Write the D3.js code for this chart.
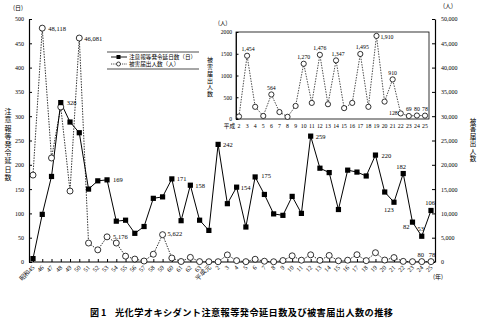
<!DOCTYPE html>
<html><head><meta charset="utf-8">
<script src="https://cdn.jsdelivr.net/npm/d3@7/dist/d3.min.js"></script>
<style>body{margin:0;background:#fff}svg{display:block}</style>
</head><body><svg id="c" width="480" height="327"></svg>
<script>
// ---- data ----
const years = [1970,1971,1972,1973,1974,1975,1976,1977,1978,1979,1980,1981,1982,1983,1984,1985,1986,1987,1988,1989,
  1990,1991,1992,1993,1994,1995,1996,1997,1998,1999,2000,2001,2002,2003,2004,2005,2006,2007,2008,2009,2010,2011,2012,2013];
const yearLabels = ["昭和45","46","47","48","49","50","51","52","53","54","55","56","57","58","59","60","61","62","63","平成元",
  "2","3","4","5","6","7","8","9","10","11","12","13","14","15","16","17","18","19","20","21","22","23","24","25"];
const days = [7,98,176,328,288,266,150,167,169,84,86,59,73,131,134,171,85,158,86,65,
  242,120,154,72,175,139,99,96,135,100,259,193,184,108,189,185,177,220,144,123,182,82,53,106];
const people = [17887,48118,21400,31900,14600,46081,3900,2500,5176,3900,1200,600,200,1600,5622,820,100,950,80,60,
  58,1454,280,70,564,160,50,300,1270,370,1476,340,1347,250,370,1495,280,1910,400,910,128,69,80,78];
const insetYears = years.filter(y => y >= 1990);
const insetLabels = ["2","3","4","5","6","7","8","9","10","11","12","13","14","15","16","17","18","19","20","21","22","23","24","25"];
const leftTicks = [0,50,100,150,200,250,300,350,400,450,500];
const rightTicks = [0,5000,10000,15000,20000,25000,30000,35000,40000,45000,50000];
const insetTicks = [0,500,1000,1500,2000];
const dayLabelYears = [1973,1978,1985,1987,1990,1992,1994,2000,2007,2009,2010,2011,2012,2013];
const peopleLabelYears = [1971,1975,1978,1984,2012,2013];
const insetLabelYears = [1991,1994,1998,2000,2002,2005,2007,2009,2010,2011,2012,2013];
const titleText = "光化学オキシダント注意報等発令延日数及び被害届出人数の推移";

// ---- drawing ----
const svg = d3.select("#c");
const SERIF = "'Liberation Serif','Times New Roman',serif";
const JP = "'Noto Sans CJK JP',sans-serif";
const fmt = d3.format(",");
const val = (arr, yr) => arr[years.indexOf(yr)];

const x = d3.scalePoint().domain(years).range([33, 431]);
const yL = d3.scaleLinear().domain([0, 500]).range([262, 19]);
const yR = d3.scaleLinear().domain([0, 50000]).range([262, 19]);

// axes
const gL = svg.append("g").attr("transform","translate(29,0)")
  .call(d3.axisLeft(yL).tickValues(leftTicks).tickSize(-3).tickSizeOuter(0).tickPadding(5).tickFormat(d3.format("d")));
const gR = svg.append("g").attr("transform","translate(435,0)")
  .call(d3.axisRight(yR).tickValues(rightTicks).tickSize(-3).tickSizeOuter(0).tickPadding(6).tickFormat(fmt));
const gB = svg.append("g").attr("transform","translate(0,262)")
  .call(d3.axisBottom(x).tickSize(-3).tickSizeOuter(0).tickFormat(""));
gB.select(".domain").remove();
svg.append("line").attr("x1",29).attr("x2",435).attr("y1",262).attr("y2",262).attr("stroke","#000").attr("stroke-width",1.2);
[gL,gR].forEach(g=>{
  g.select(".domain").attr("stroke-width",1.2);
  g.selectAll("text").attr("font-family",SERIF).attr("font-size",6).attr("fill","#000");
});
// rotated x labels
svg.append("g").selectAll("text").data(years).join("text")
  .attr("transform", d => `translate(${x(d)+2},${268}) rotate(-45)`)
  .attr("text-anchor","end").attr("font-family",SERIF).attr("font-size",6.3)
  .text((d,i)=>yearLabels[i]);
svg.append("text").attr("x",433).attr("y",279).attr("font-family",JP).attr("font-size",6).text("(年)");

// unit labels
svg.append("text").attr("x",13).attr("y",10).attr("font-family",JP).attr("font-size",6).text("(日)");
svg.append("text").attr("x",443).attr("y",8).attr("font-family",JP).attr("font-size",6).text("(人)");
function vtext(str, cx, y0, size, spacing){
  svg.append("text").attr("x",cx).attr("y",y0)
    .style("writing-mode","vertical-rl").style("text-orientation","upright")
    .attr("letter-spacing",spacing).attr("font-family",JP).attr("font-size",size).text(str);
}
vtext("注意報等発令延日数", 8, 108, 7, 1.2);
vtext("被害届出人数", 473, 118, 6.5, 1);

// people series
svg.append("path").datum(years).attr("fill","none").attr("stroke","#000").attr("stroke-width",0.8)
  .attr("stroke-dasharray","1.5,1.2")
  .attr("d", d3.line().x(d=>x(d)).y(d=>yR(val(people,d))));
// days series
svg.append("path").datum(years).attr("fill","none").attr("stroke","#000").attr("stroke-width",1)
  .attr("d", d3.line().x(d=>x(d)).y(d=>yL(val(days,d))));
svg.append("g").selectAll("circle").data(years).join("circle")
  .attr("cx",d=>x(d)).attr("cy",d=>yR(val(people,d))).attr("r",3)
  .attr("fill","#fff").attr("stroke","#000").attr("stroke-width",0.8);
svg.append("g").selectAll("rect").data(years).join("rect")
  .attr("x",d=>x(d)-2.6).attr("y",d=>yL(val(days,d))-2.6).attr("width",5.2).attr("height",5.2).attr("fill","#000");

// day labels
const dayPos = {1973:[6,2.5,"start"],1978:[6,2.5,"start"],1985:[5,2.5,"start"],1987:[5,2.5,"start"],1990:[5,2.5,"start"],
  1992:[4,2.5,"start"],1994:[6,1,"start"],2000:[5,2.5,"start"],2007:[6,2.5,"start"],2009:[-5,10,"middle"],
  2010:[-2,-4.5,"middle"],2011:[-3,6.5,"end"],2012:[-1,-5,"middle"],2013:[-1,-5,"middle"]};
svg.append("g").selectAll("text").data(dayLabelYears).join("text")
  .attr("x",d=>x(d)+dayPos[d][0]).attr("y",d=>yL(val(days,d))+dayPos[d][1])
  .attr("text-anchor",d=>dayPos[d][2]).attr("font-family",SERIF).attr("font-size",6.5)
  .text(d=>val(days,d));
const pplPos = {1971:[6,2.5,"start"],1975:[5,2.5,"start"],1978:[6,2.5,"start"],1984:[5,1,"start"],
  2012:[-1,-4.5,"middle"],2013:[1,-4.5,"middle"]};
svg.append("g").selectAll("text").data(peopleLabelYears).join("text")
  .attr("x",d=>x(d)+pplPos[d][0]).attr("y",d=>yR(val(people,d))+pplPos[d][1])
  .attr("text-anchor",d=>pplPos[d][2]).attr("font-family",SERIF).attr("font-size",6.5)
  .text(d=>fmt(val(people,d)));

// legend
[52,69].forEach(yy=>svg.append("line").attr("x1",107).attr("x2",199).attr("y1",yy).attr("y2",yy).attr("stroke","#000").attr("stroke-width",0.7));
svg.append("line").attr("x1",111).attr("x2",127).attr("y1",57).attr("y2",57).attr("stroke","#000").attr("stroke-width",0.9);
svg.append("rect").attr("x",116.5).attr("y",55).attr("width",4).attr("height",4).attr("fill","#000");
svg.append("line").attr("x1",111).attr("x2",127).attr("y1",64).attr("y2",64).attr("stroke","#000").attr("stroke-width",0.7).attr("stroke-dasharray","1.2,1");
svg.append("circle").attr("cx",118.5).attr("cy",64).attr("r",2).attr("fill","#fff").attr("stroke","#000").attr("stroke-width",0.7);
svg.append("text").attr("x",129).attr("y",59).attr("font-family",JP).attr("font-size",5.6).text("注意報等発令延日数（日）");
svg.append("text").attr("x",129).attr("y",66).attr("font-family",JP).attr("font-size",5.6).text("被害届出人数（人）");

// inset
const xI = d3.scalePoint().domain(insetYears).range([239, 425]);
const yI = d3.scaleLinear().domain([0, 2000]).range([119, 32]);
svg.append("rect").attr("x",236).attr("y",32).attr("width",193).attr("height",87)
  .attr("fill","#fff").attr("stroke","#000").attr("stroke-width",0.8);
const gI = svg.append("g").attr("transform","translate(236,0)")
  .call(d3.axisLeft(yI).tickValues(insetTicks).tickSize(-2.5).tickSizeOuter(0).tickPadding(4).tickFormat(d3.format("d")));
gI.select(".domain").attr("stroke-width",0.9);
gI.selectAll("text").attr("font-family",SERIF).attr("font-size",5.6);
svg.append("g").selectAll("text").data(insetYears).join("text")
  .attr("x",d=>xI(d)).attr("y",128).attr("text-anchor","middle").attr("font-family",SERIF).attr("font-size",5.8)
  .text((d,i)=>insetLabels[i]);
svg.append("text").attr("x",235).attr("y",128).attr("text-anchor","end").attr("font-family",JP).attr("font-size",5.6).text("平成");
svg.append("text").attr("x",218).attr("y",25).attr("font-family",JP).attr("font-size",5.6).text("(人)");
vtext("被害届出人数", 210, 57, 6, 0.8);
svg.append("path").datum(insetYears).attr("fill","none").attr("stroke","#000").attr("stroke-width",0.7)
  .attr("stroke-dasharray","1.5,1.2")
  .attr("d", d3.line().x(d=>xI(d)).y(d=>yI(val(people,d))));
svg.append("g").selectAll("circle").data(insetYears).join("circle")
  .attr("cx",d=>xI(d)).attr("cy",d=>yI(val(people,d))).attr("r",2.6)
  .attr("fill","#fff").attr("stroke","#000").attr("stroke-width",0.8);
const insPos = {1991:[1,-4.5,"middle"],1994:[0,-4.5,"middle"],1998:[0,-4.5,"middle"],2000:[0,-4.5,"middle"],
  2002:[2,-4,"middle"],2005:[2,-4.5,"middle"],2007:[4,3,"start"],2009:[0,-4.5,"middle"],
  2010:[-3,2,"end"],2011:[0,-5,"middle"],2012:[0,-5,"middle"],2013:[0,-5,"middle"]};
svg.append("g").selectAll("text").data(insetLabelYears).join("text")
  .attr("x",d=>xI(d)+insPos[d][0]).attr("y",d=>yI(val(people,d))+insPos[d][1])
  .attr("text-anchor",d=>insPos[d][2]).attr("font-family",SERIF).attr("font-size",5.8)
  .text(d=>fmt(val(people,d)));

// title
svg.append("text").attr("x",90).attr("y",316).attr("font-family",JP).attr("font-weight","bold").attr("font-size",9).text("図 1");
svg.append("text").attr("x",115).attr("y",316).attr("font-family",JP).attr("font-weight","bold").attr("font-size",9.2)
  .attr("textLength",278).attr("lengthAdjust","spacing").text(titleText);
</script></body></html>
